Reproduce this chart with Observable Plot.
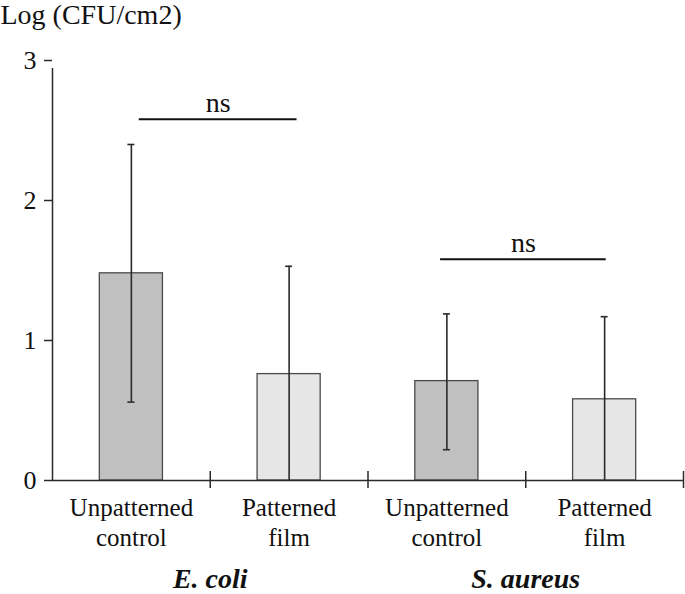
<!DOCTYPE html>
<html><head><meta charset="utf-8">
<script src="https://cdn.jsdelivr.net/npm/d3@7"></script>
<script src="https://cdn.jsdelivr.net/npm/@observablehq/plot@0.6"></script>
<style>
body{margin:0;background:#fff;}
</style>
</head><body><div id="chart"></div>
<script>
const groups = ["E. coli", "E. coli", "S. aureus", "S. aureus"];
const conditions = ["Unpatterned control", "Patterned film", "Unpatterned control", "Patterned film"];
const categoryLabels = ["Unpatterned\ncontrol", "Patterned\nfilm", "Unpatterned\ncontrol", "Patterned\nfilm"];
const means = [1.48, 0.76, 0.71, 0.58];
const errUpper = [2.40, 1.53, 1.19, 1.17];
const errLower = [0.56, 0, 0.22, 0];
const groupNames = ["E. coli", "S. aureus"];
const yTicks = [0, 1, 2, 3];
const sigLabels = ["ns", "ns"];
const sigX1 = [0.55, 2.46];
const sigX2 = [1.55, 3.51];
const sigY = [2.58, 1.58];
const yTitle = "Log (CFU/cm2)";

const data = means.map((m, i) => ({i, group: groups[i], condition: conditions[i], label: categoryLabels[i], mean: m, lo: errLower[i], hi: errUpper[i]}));
const sigs = sigLabels.map((t, j) => ({t, x1: sigX1[j], x2: sigX2[j], y: sigY[j]}));
const groupData = groupNames.map((g, j) => ({g, x: d3.mean(data.filter(d => d.group === g), d => d.i + 0.5)}));

const ink = "#2a2a2a";
const serif = "Liberation Serif, Times New Roman, serif";
const chart = Plot.plot({
  width: 685, height: 594,
  marginLeft: 52, marginRight: 2, marginTop: 60, marginBottom: 114,
  x: {type: "linear", domain: [0, 4], axis: null},
  y: {domain: [0, 3], axis: null},
  color: {domain: ["Unpatterned control", "Patterned film"], range: ["#c0c0c0", "#e6e6e6"]},
  style: {fontFamily: serif, color: "#111", background: "#fff"},
  marks: [
    Plot.rectY(data, {x1: d => d.i + 0.3, x2: d => d.i + 0.7, y1: 0, y2: "mean", fill: "condition", stroke: "#4a4a4a", strokeWidth: 1.3}),
    Plot.ruleX(data, {x: d => d.i + 0.5, y1: "lo", y2: "hi", stroke: ink, strokeWidth: 1.6}),
    Plot.ruleY(data, {x1: d => d.i + 0.5, x2: d => d.i + 0.5, y: "hi", insetLeft: -3.5, insetRight: -3.5, stroke: ink, strokeWidth: 1.6}),
    Plot.ruleY(data.filter(d => d.lo > 0), {x1: d => d.i + 0.5, x2: d => d.i + 0.5, y: "lo", insetLeft: -3.5, insetRight: -3.5, stroke: ink, strokeWidth: 1.6}),
    // axes
    Plot.ruleY([0], {stroke: ink, strokeWidth: 1.5}),
    Plot.ruleX([0], {y1: 0, y2: 3, insetBottom: -8, stroke: ink, strokeWidth: 1.5}),
    Plot.ruleX([1, 2, 3, 4], {x: d => d, y1: 0, y2: 0, insetTop: -9, insetBottom: -8, stroke: ink, strokeWidth: 1.5}),
    Plot.ruleY(yTicks, {y: d => d, x1: 0, x2: 0, insetLeft: -8, stroke: ink, strokeWidth: 1.5}),
    Plot.text(yTicks, {x: 0, y: d => d, text: d => String(d), textAnchor: "end", dx: -16, fontSize: 26, fontFamily: serif, fill: "#111"}),
    Plot.text(data, {x: d => d.i + 0.5, y: 0, text: "label", lineAnchor: "top", dy: 14, lineHeight: 1.2, fontSize: 25, fontFamily: serif, fill: "#111"}),
    Plot.text(groupData, {x: "x", y: 0, text: "g", lineAnchor: "top", dy: 88, fontSize: 28, fontWeight: "bold", fontStyle: "italic", fontFamily: serif, fill: "#111"}),
    // significance
    Plot.ruleY(sigs, {x1: "x1", x2: "x2", y: "y", stroke: "#111", strokeWidth: 2}),
    Plot.text(sigs, {x: d => (d.x1 + d.x2) / 2, y: "y", text: "t", lineAnchor: "bottom", dy: -7, fontSize: 28, fontFamily: serif, fill: "#111"}),
    // title
    Plot.text([yTitle], {frameAnchor: "top-left", text: d => d, textAnchor: "start", lineAnchor: "top", dx: -52, dy: -56, fontSize: 28, fontFamily: serif, fill: "#111"})
  ]
});
document.getElementById("chart").append(chart);
</script>
</body></html>
